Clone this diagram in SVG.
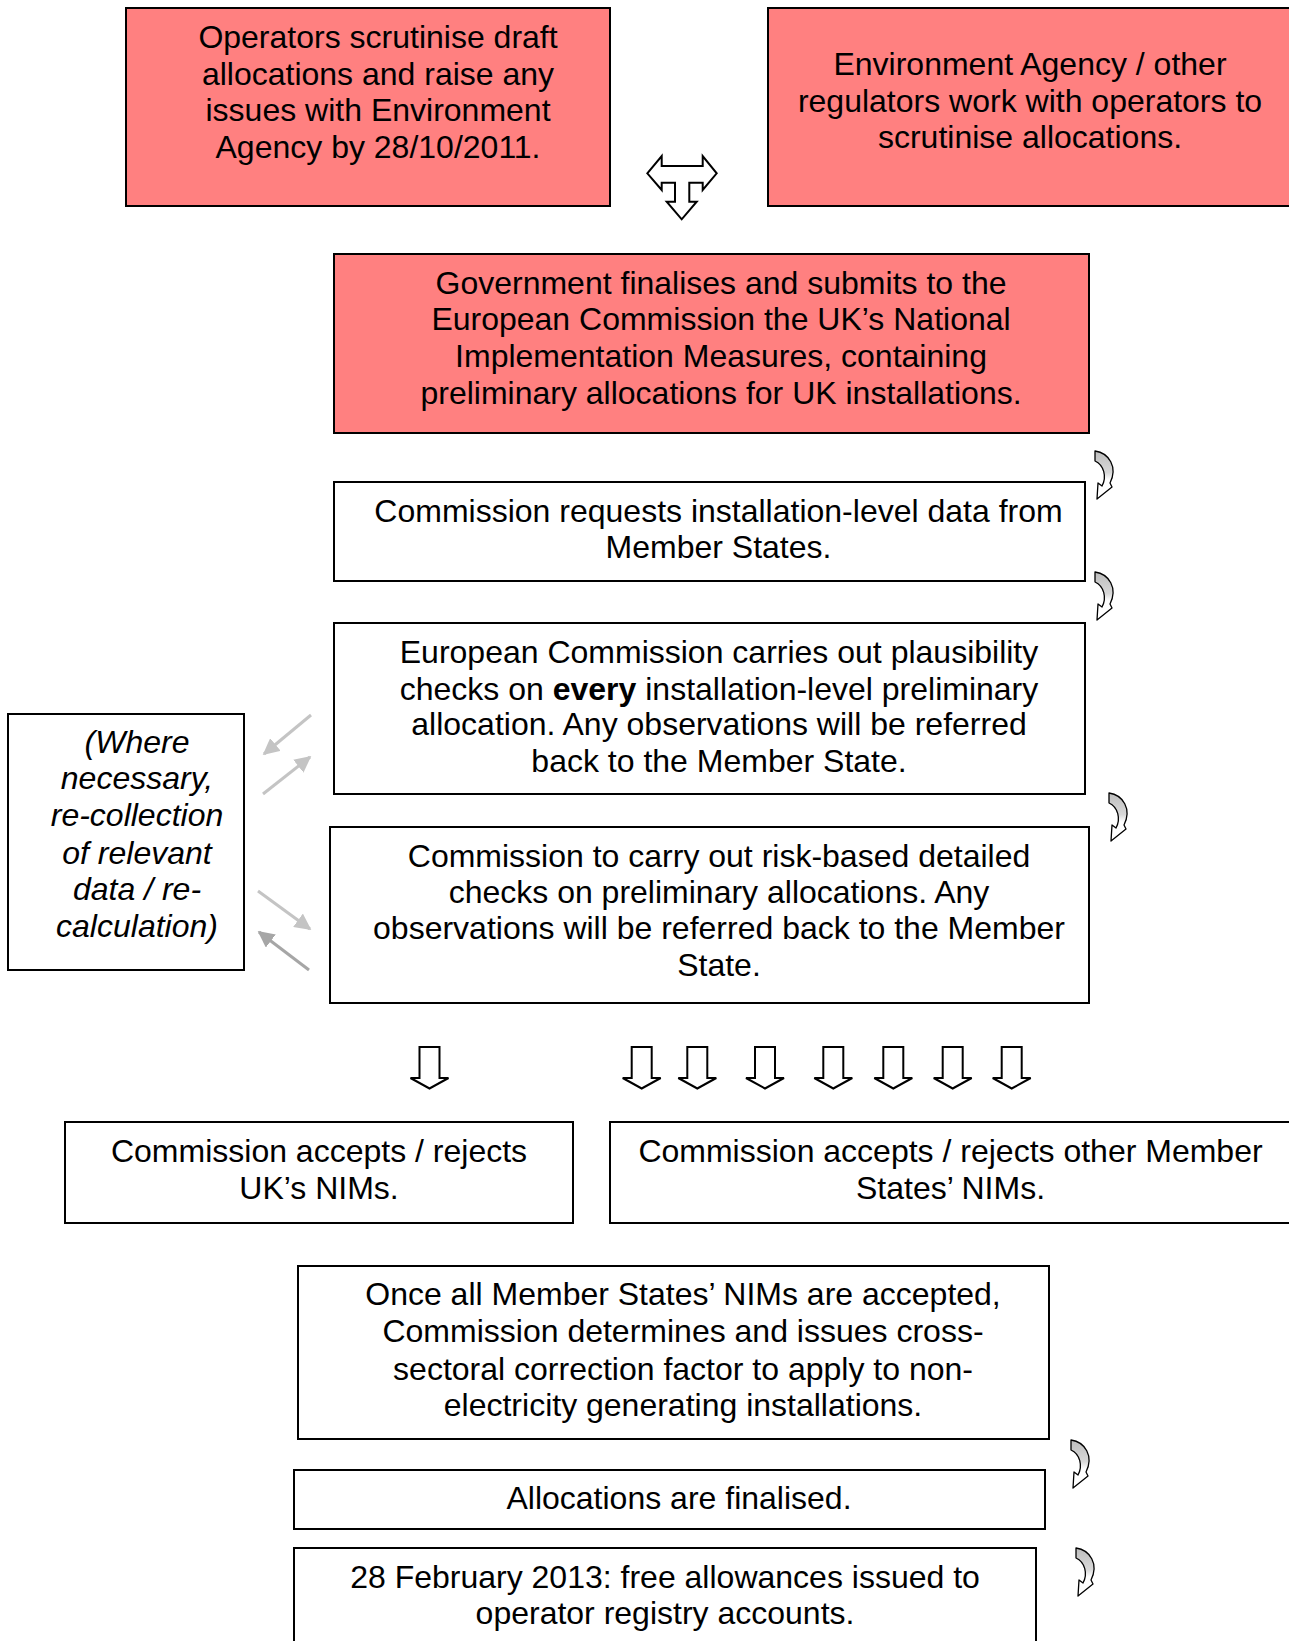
<svg xmlns="http://www.w3.org/2000/svg" width="1289" height="1641" viewBox="0 0 1289 1641">
<style>
.box{stroke:#000;stroke-width:2;fill:#fff}
.pink{fill:#ff8080}
text{font-family:"Liberation Sans",Arial,sans-serif;font-size:32px;fill:#000;text-anchor:middle}
.it{font-style:italic}
.curve{fill:url(#cg);stroke:#000;stroke-width:1.3;stroke-linejoin:round}
.down{fill:#fff;stroke:#000;stroke-width:2;stroke-linejoin:miter}
.g1{stroke:#c4c4c4;stroke-width:3;fill:none}
.g2{stroke:#a6a6a6;stroke-width:3;fill:none}
</style>
<defs>
<linearGradient id="cg" x1="0" y1="0" x2="0" y2="1">
<stop offset="0" stop-color="#bdbdbd"/>
<stop offset="0.45" stop-color="#d8d8d8"/>
<stop offset="0.6" stop-color="#fff"/>
<stop offset="1" stop-color="#fff"/>
</linearGradient>
<path id="ca" d="M1,0 C15,2 24,16 16,32 L18,36 L3,48 L4,32 L8,35 C13,26 10,14 1,10 Z"/>
<path id="da" d="M-10,0 L10,0 L10,31 L19,31 L0,41.5 L-19,31 L-10,31 Z"/>
<marker id="mg1" viewBox="0 0 10 10" refX="9" refY="5" markerWidth="5.5" markerHeight="5.5" orient="auto" markerUnits="strokeWidth"><path d="M0,0 L10,5 L0,10 Z" fill="#c4c4c4"/></marker>
<marker id="mg2" viewBox="0 0 10 10" refX="9" refY="5" markerWidth="5.5" markerHeight="5.5" orient="auto" markerUnits="strokeWidth"><path d="M0,0 L10,5 L0,10 Z" fill="#a6a6a6"/></marker>
</defs>

<g id="n1"><rect class="box pink" x="126" y="8" width="484" height="198"/>
<text x="378" y="48">Operators scrutinise draft</text>
<text x="378" y="85">allocations and raise any</text>
<text x="378" y="121">issues with Environment</text>
<text x="378" y="158">Agency by 28/10/2011.</text></g>

<g id="n2"><rect class="box pink" x="768" y="8" width="540" height="198"/>
<text x="1030" y="75">Environment Agency / other</text>
<text x="1030" y="112">regulators work with operators to</text>
<text x="1030" y="148">scrutinise allocations.</text></g>

<g id="n3"><rect class="box pink" x="334" y="254" width="755" height="179"/>
<text x="721" y="294">Government finalises and submits to the</text>
<text x="721" y="330">European Commission the UK’s National</text>
<text x="721" y="367">Implementation Measures, containing</text>
<text x="721" y="404">preliminary allocations for UK installations.</text></g>

<g id="n4"><rect class="box" x="334" y="482" width="751" height="99"/>
<text x="718.5" y="522">Commission requests installation-level data from</text>
<text x="718.5" y="558">Member States.</text></g>

<g id="n5"><rect class="box" x="334" y="623" width="751" height="171"/>
<text x="719" y="663">European Commission carries out plausibility</text>
<text x="719" y="700">checks on <tspan font-weight="bold">every</tspan> installation-level preliminary</text>
<text x="719" y="735">allocation. Any observations will be referred</text>
<text x="719" y="772">back to the Member State.</text></g>

<g id="n6"><rect class="box" x="330" y="827" width="759" height="176"/>
<text x="719" y="867">Commission to carry out risk-based detailed</text>
<text x="719" y="903">checks on preliminary allocations. Any</text>
<text x="719" y="939">observations will be referred back to the Member</text>
<text x="719" y="976">State.</text></g>

<g id="n7"><rect class="box" x="8" y="714" width="236" height="256"/>
<text class="it" x="137" y="753">(Where</text>
<text class="it" x="137" y="789">necessary,</text>
<text class="it" x="137" y="826">re-collection</text>
<text class="it" x="137" y="864">of relevant</text>
<text class="it" x="137" y="900">data / re-</text>
<text class="it" x="137" y="937">calculation)</text></g>

<g id="n8"><rect class="box" x="65" y="1122" width="508" height="101"/>
<text x="319" y="1162">Commission accepts / rejects</text>
<text x="319" y="1199">UK’s NIMs.</text></g>

<g id="n9"><rect class="box" x="610" y="1122" width="700" height="101"/>
<text x="950.5" y="1162">Commission accepts / rejects other Member</text>
<text x="950.5" y="1199">States’ NIMs.</text></g>

<g id="n10"><rect class="box" x="298" y="1266" width="751" height="173"/>
<text x="683" y="1305">Once all Member States’ NIMs are accepted,</text>
<text x="683" y="1342">Commission determines and issues cross-</text>
<text x="683" y="1380">sectoral correction factor to apply to non-</text>
<text x="683" y="1416">electricity generating installations.</text></g>

<g id="n11"><rect class="box" x="294" y="1470" width="751" height="59"/>
<text x="679" y="1509">Allocations are finalised.</text></g>

<g id="n12"><rect class="box" x="294" y="1548" width="742" height="120"/>
<text x="665" y="1588">28 February 2013: free allowances issued to</text>
<text x="665" y="1624">operator registry accounts.</text></g>

<g id="connectors">
<polygon class="down" points="647.3,173.3 661.7,156 661.7,166 702.7,166 702.7,156 716.7,173.3 702.7,190 702.7,182.7 689.3,182.7 689.3,201.7 696.7,201.7 681.7,219.3 666.7,201.7 675,201.7 675,182.7 661.7,182.7 661.7,190"/>
<use href="#ca" class="curve" transform="translate(1094,451)"/>
<use href="#ca" class="curve" transform="translate(1094,572)"/>
<use href="#ca" class="curve" transform="translate(1108,793)"/>
<use href="#ca" class="curve" transform="translate(1070,1440)"/>
<use href="#ca" class="curve" transform="translate(1075,1548)"/>
<use href="#da" class="down" transform="translate(429.5,1047)"/>
<use href="#da" class="down" transform="translate(641.7,1047)"/>
<use href="#da" class="down" transform="translate(697.3,1047)"/>
<use href="#da" class="down" transform="translate(765,1047)"/>
<use href="#da" class="down" transform="translate(833.3,1047)"/>
<use href="#da" class="down" transform="translate(893.3,1047)"/>
<use href="#da" class="down" transform="translate(952.7,1047)"/>
<use href="#da" class="down" transform="translate(1011.7,1047)"/>
<line class="g1" x1="311" y1="715" x2="264" y2="754" marker-end="url(#mg1)"/>
<line class="g1" x1="263" y1="794" x2="310" y2="757" marker-end="url(#mg1)"/>
<line class="g1" x1="258" y1="891" x2="310" y2="929" marker-end="url(#mg1)"/>
<line class="g2" x1="309" y1="970" x2="259" y2="932" marker-end="url(#mg2)"/>
</g>
</svg>
